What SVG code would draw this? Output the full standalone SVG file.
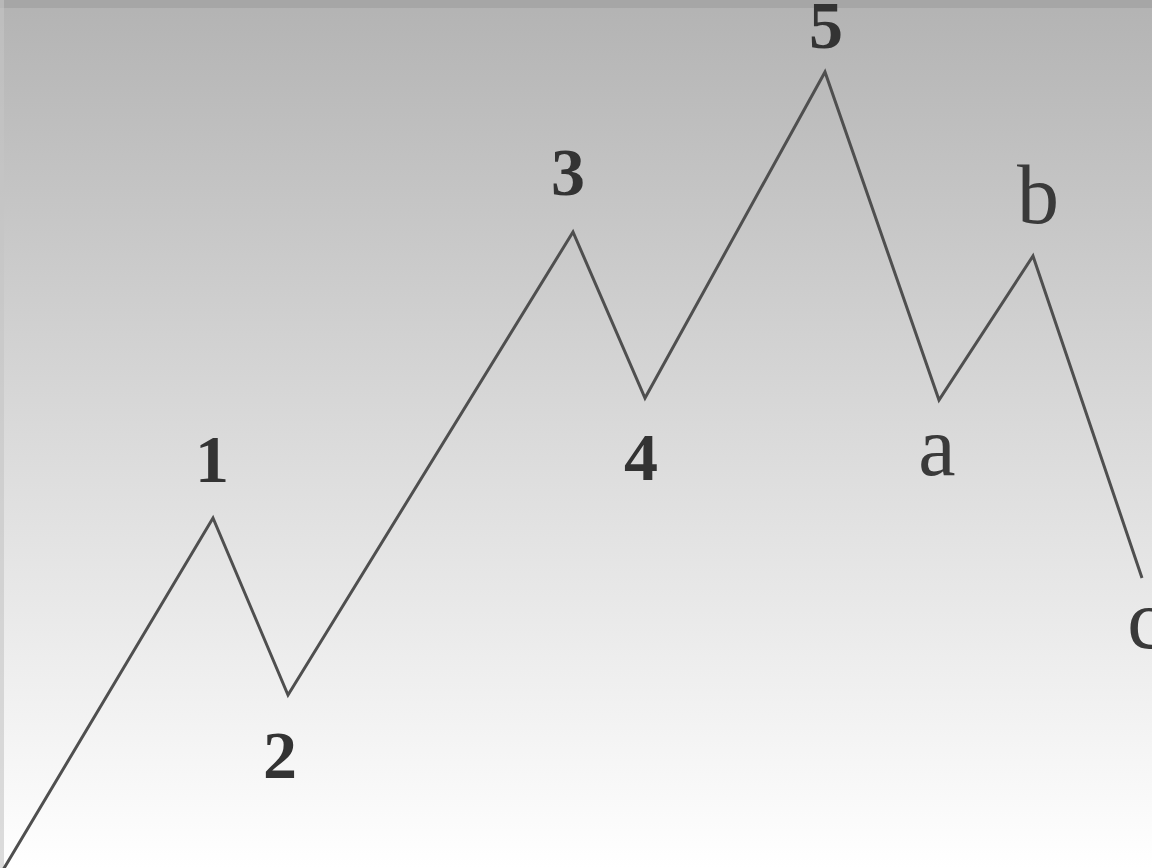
<svg xmlns="http://www.w3.org/2000/svg" width="1152" height="868" viewBox="0 0 1152 868">
<defs>
<linearGradient id="bg" x1="0" y1="0" x2="0" y2="1">
<stop offset="0" stop-color="#b3b3b3"/>
<stop offset="0.5" stop-color="#dadada"/>
<stop offset="1" stop-color="#ffffff"/>
</linearGradient>
<style>
.num{font-family:"Liberation Serif","DejaVu Serif",serif;font-weight:bold;font-size:68px;fill:#333;text-anchor:middle}
.let{font-family:"Liberation Serif","DejaVu Serif",serif;font-size:84px;fill:#3a3a3a;text-anchor:middle}
.wave{fill:none;stroke:#4f4f4f;stroke-width:3;stroke-linejoin:miter}
</style>
</defs>
<rect x="0" y="0" width="1152" height="868" fill="url(#bg)"/>
<rect x="0" y="0" width="1152" height="8" fill="#a6a6a6"/>
<rect x="0" y="0" width="4" height="868" fill="#c4c4c4" opacity="0.6"/>
<g id="connectors">
<polyline class="wave" points="3,870 213,518 288,695 573,232 645,398 825,72 939,400 1033,256 1142,578"/>
</g>
<g id="label-1"><text class="num" x="212" y="482">1</text></g>
<g id="label-2"><text class="num" x="280" y="778">2</text></g>
<g id="label-3"><text class="num" x="568" y="195">3</text></g>
<g id="label-4"><text class="num" x="641" y="480">4</text></g>
<g id="label-5"><text class="num" x="826" y="48">5</text></g>
<g id="label-a"><text class="let" x="937" y="475">a</text></g>
<g id="label-b"><text class="let" x="1038" y="223">b</text></g>
<g id="label-c"><text class="let" x="1146" y="648">c</text></g>
</svg>
